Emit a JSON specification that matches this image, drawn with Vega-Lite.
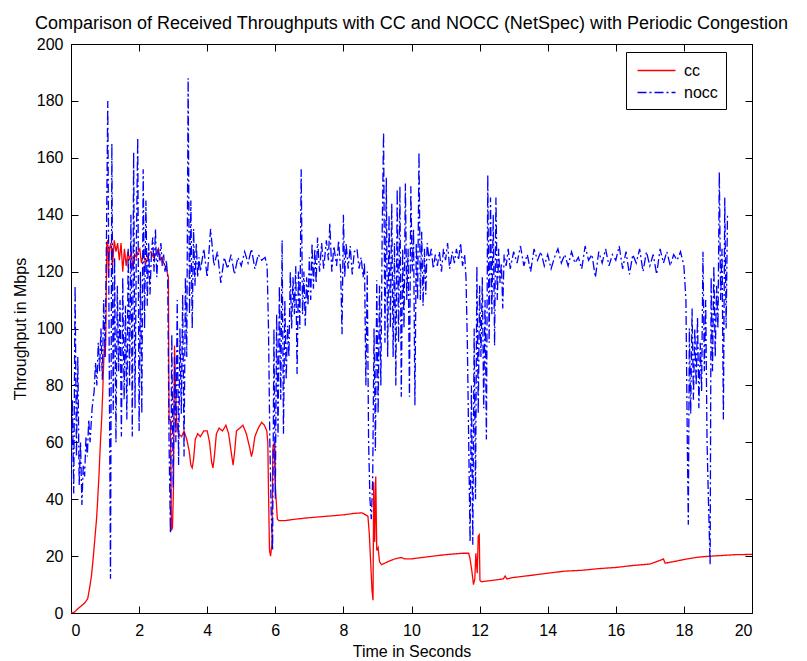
{
  "$schema": "https://vega.github.io/schema/vega-lite/v6.json",
  "width": 681,
  "height": 569,
  "autosize": {"type": "none"},
  "padding": {"left": 71, "top": 44, "right": 55, "bottom": 48},
  "background": "white",
  "title": {"text": "Comparison of Received Throughputs with CC and NOCC (NetSpec) with Periodic Congestion", "font": "Liberation Sans", "fontSize": 18, "fontWeight": "normal", "color": "black", "anchor": "middle", "offset": 3},
  "config": {
    "view": {"stroke": "black", "strokeWidth": 1},
    "axis": {"domain": false, "grid": false, "tickColor": "black", "tickSize": -7, "labelFont": "Liberation Sans", "labelFontSize": 16, "labelColor": "black", "titleFont": "Liberation Sans", "titleFontSize": 16, "titleFontWeight": "normal", "titleColor": "black"}
  },
  "data": {"values": [
{"t":0,"v":0,"s":"cc"},{"t":0.1,"v":0.3,"s":"cc"},{"t":0.2,"v":1.5,"s":"cc"},{"t":0.3,"v":2.5,"s":"cc"},{"t":0.4,"v":3.5,"s":"cc"},{"t":0.49,"v":5,"s":"cc"},{"t":0.55,"v":9,"s":"cc"},{"t":0.6,"v":13,"s":"cc"},{"t":0.65,"v":19,"s":"cc"},{"t":0.7,"v":26,"s":"cc"},{"t":0.75,"v":33,"s":"cc"},{"t":0.78,"v":39,"s":"cc"},{"t":0.82,"v":48,"s":"cc"},{"t":0.86,"v":59,"s":"cc"},{"t":0.9,"v":68,"s":"cc"},{"t":0.93,"v":77,"s":"cc"},{"t":0.96,"v":88,"s":"cc"},{"t":0.98,"v":94,"s":"cc"},{"t":1.0,"v":90,"s":"cc"},{"t":1.02,"v":95,"s":"cc"},{"t":1.05,"v":130,"s":"cc"},{"t":1.08,"v":131,"s":"cc"},{"t":1.1,"v":118,"s":"cc"},{"t":1.13,"v":128,"s":"cc"},{"t":1.17,"v":130,"s":"cc"},{"t":1.22,"v":122,"s":"cc"},{"t":1.27,"v":131,"s":"cc"},{"t":1.32,"v":127,"s":"cc"},{"t":1.37,"v":130,"s":"cc"},{"t":1.42,"v":124,"s":"cc"},{"t":1.47,"v":130,"s":"cc"},{"t":1.52,"v":120,"s":"cc"},{"t":1.57,"v":128,"s":"cc"},{"t":1.62,"v":122,"s":"cc"},{"t":1.67,"v":127,"s":"cc"},{"t":1.72,"v":124,"s":"cc"},{"t":1.77,"v":127,"s":"cc"},{"t":1.82,"v":121,"s":"cc"},{"t":1.87,"v":126,"s":"cc"},{"t":1.92,"v":125,"s":"cc"},{"t":1.97,"v":127,"s":"cc"},{"t":2.02,"v":128,"s":"cc"},{"t":2.07,"v":123,"s":"cc"},{"t":2.12,"v":126,"s":"cc"},{"t":2.2,"v":123,"s":"cc"},{"t":2.27,"v":126,"s":"cc"},{"t":2.35,"v":127,"s":"cc"},{"t":2.42,"v":125,"s":"cc"},{"t":2.5,"v":126,"s":"cc"},{"t":2.57,"v":128,"s":"cc"},{"t":2.62,"v":124,"s":"cc"},{"t":2.67,"v":125,"s":"cc"},{"t":2.72,"v":123,"s":"cc"},{"t":2.77,"v":122,"s":"cc"},{"t":2.82,"v":120,"s":"cc"},{"t":2.86,"v":118,"s":"cc"},{"t":2.88,"v":68,"s":"cc"},{"t":2.92,"v":68,"s":"cc"},{"t":2.95,"v":29,"s":"cc"},{"t":2.98,"v":30,"s":"cc"},{"t":3.01,"v":44,"s":"cc"},{"t":3.04,"v":94,"s":"cc"},{"t":3.07,"v":80,"s":"cc"},{"t":3.1,"v":68,"s":"cc"},{"t":3.15,"v":63,"s":"cc"},{"t":3.25,"v":62,"s":"cc"},{"t":3.32,"v":64,"s":"cc"},{"t":3.4,"v":61,"s":"cc"},{"t":3.47,"v":57,"s":"cc"},{"t":3.52,"v":52,"s":"cc"},{"t":3.56,"v":51,"s":"cc"},{"t":3.6,"v":54,"s":"cc"},{"t":3.65,"v":61,"s":"cc"},{"t":3.72,"v":63,"s":"cc"},{"t":3.8,"v":62,"s":"cc"},{"t":3.9,"v":64,"s":"cc"},{"t":4.0,"v":64,"s":"cc"},{"t":4.07,"v":60,"s":"cc"},{"t":4.13,"v":53,"s":"cc"},{"t":4.17,"v":51,"s":"cc"},{"t":4.21,"v":55,"s":"cc"},{"t":4.27,"v":63,"s":"cc"},{"t":4.35,"v":65,"s":"cc"},{"t":4.45,"v":64,"s":"cc"},{"t":4.55,"v":66,"s":"cc"},{"t":4.63,"v":63,"s":"cc"},{"t":4.7,"v":57,"s":"cc"},{"t":4.76,"v":52,"s":"cc"},{"t":4.8,"v":56,"s":"cc"},{"t":4.86,"v":64,"s":"cc"},{"t":4.96,"v":65,"s":"cc"},{"t":5.05,"v":66,"s":"cc"},{"t":5.15,"v":63,"s":"cc"},{"t":5.25,"v":58,"s":"cc"},{"t":5.3,"v":55,"s":"cc"},{"t":5.34,"v":57,"s":"cc"},{"t":5.4,"v":62,"s":"cc"},{"t":5.5,"v":65,"s":"cc"},{"t":5.6,"v":67,"s":"cc"},{"t":5.68,"v":66,"s":"cc"},{"t":5.75,"v":64,"s":"cc"},{"t":5.78,"v":60,"s":"cc"},{"t":5.8,"v":43,"s":"cc"},{"t":5.83,"v":22,"s":"cc"},{"t":5.86,"v":20,"s":"cc"},{"t":5.9,"v":24,"s":"cc"},{"t":5.93,"v":58,"s":"cc"},{"t":5.97,"v":60,"s":"cc"},{"t":6.0,"v":45,"s":"cc"},{"t":6.03,"v":39,"s":"cc"},{"t":6.06,"v":33,"s":"cc"},{"t":6.1,"v":32.5,"s":"cc"},{"t":6.3,"v":32.5,"s":"cc"},{"t":6.6,"v":33,"s":"cc"},{"t":7.0,"v":33.5,"s":"cc"},{"t":7.5,"v":34,"s":"cc"},{"t":8.0,"v":34.5,"s":"cc"},{"t":8.3,"v":35,"s":"cc"},{"t":8.55,"v":35.2,"s":"cc"},{"t":8.72,"v":34,"s":"cc"},{"t":8.76,"v":28,"s":"cc"},{"t":8.8,"v":18,"s":"cc"},{"t":8.84,"v":8,"s":"cc"},{"t":8.87,"v":4.5,"s":"cc"},{"t":8.89,"v":46,"s":"cc"},{"t":8.92,"v":25,"s":"cc"},{"t":8.95,"v":48,"s":"cc"},{"t":8.98,"v":22,"s":"cc"},{"t":9.02,"v":23,"s":"cc"},{"t":9.06,"v":18,"s":"cc"},{"t":9.12,"v":17,"s":"cc"},{"t":9.3,"v":18,"s":"cc"},{"t":9.5,"v":19,"s":"cc"},{"t":9.7,"v":19.5,"s":"cc"},{"t":9.8,"v":19,"s":"cc"},{"t":10.0,"v":19,"s":"cc"},{"t":10.3,"v":19.5,"s":"cc"},{"t":10.64,"v":20,"s":"cc"},{"t":11.0,"v":20.5,"s":"cc"},{"t":11.5,"v":21,"s":"cc"},{"t":11.68,"v":21,"s":"cc"},{"t":11.72,"v":19,"s":"cc"},{"t":11.77,"v":15,"s":"cc"},{"t":11.82,"v":10,"s":"cc"},{"t":11.86,"v":12,"s":"cc"},{"t":11.89,"v":21,"s":"cc"},{"t":11.93,"v":14,"s":"cc"},{"t":11.96,"v":27,"s":"cc"},{"t":11.99,"v":27.5,"s":"cc"},{"t":12.01,"v":11.5,"s":"cc"},{"t":12.05,"v":11,"s":"cc"},{"t":12.4,"v":11.5,"s":"cc"},{"t":12.7,"v":12,"s":"cc"},{"t":12.75,"v":13,"s":"cc"},{"t":12.8,"v":12,"s":"cc"},{"t":13.0,"v":12.5,"s":"cc"},{"t":13.5,"v":13.2,"s":"cc"},{"t":14.0,"v":14,"s":"cc"},{"t":14.5,"v":14.7,"s":"cc"},{"t":15.0,"v":15,"s":"cc"},{"t":15.5,"v":15.6,"s":"cc"},{"t":16.0,"v":16,"s":"cc"},{"t":16.5,"v":16.7,"s":"cc"},{"t":17.0,"v":17.2,"s":"cc"},{"t":17.3,"v":18.5,"s":"cc"},{"t":17.4,"v":19,"s":"cc"},{"t":17.45,"v":17.5,"s":"cc"},{"t":17.8,"v":18.3,"s":"cc"},{"t":18.0,"v":18.8,"s":"cc"},{"t":18.4,"v":19.6,"s":"cc"},{"t":18.8,"v":20,"s":"cc"},{"t":19.1,"v":20.2,"s":"cc"},{"t":19.5,"v":20.5,"s":"cc"},{"t":20.0,"v":20.6,"s":"cc"},
{"t":0.0,"v":40,"s":"nocc"},{"t":0.04,"v":75,"s":"nocc"},{"t":0.08,"v":42,"s":"nocc"},{"t":0.12,"v":115,"s":"nocc"},{"t":0.16,"v":55,"s":"nocc"},{"t":0.2,"v":90,"s":"nocc"},{"t":0.24,"v":45,"s":"nocc"},{"t":0.28,"v":60,"s":"nocc"},{"t":0.32,"v":38,"s":"nocc"},{"t":0.36,"v":52,"s":"nocc"},{"t":0.4,"v":48,"s":"nocc"},{"t":0.44,"v":62,"s":"nocc"},{"t":0.48,"v":55,"s":"nocc"},{"t":0.52,"v":68,"s":"nocc"},{"t":0.56,"v":60,"s":"nocc"},{"t":0.62,"v":72,"s":"nocc"},{"t":0.68,"v":78,"s":"nocc"},{"t":0.72,"v":88,"s":"nocc"},{"t":0.76,"v":80,"s":"nocc"},{"t":0.8,"v":95,"s":"nocc"},{"t":0.84,"v":85,"s":"nocc"},{"t":0.88,"v":100,"s":"nocc"},{"t":0.92,"v":82,"s":"nocc"},{"t":0.96,"v":110,"s":"nocc"},{"t":1.0,"v":90,"s":"nocc"},{"t":1.04,"v":130,"s":"nocc"},{"t":1.08,"v":180,"s":"nocc"},{"t":1.12,"v":95,"s":"nocc"},{"t":1.16,"v":12,"s":"nocc"},{"t":1.2,"v":165,"s":"nocc"},{"t":1.24,"v":70,"s":"nocc"},{"t":1.28,"v":125,"s":"nocc"},{"t":1.32,"v":60,"s":"nocc"},{"t":1.36,"v":115,"s":"nocc"},{"t":1.4,"v":85,"s":"nocc"},{"t":1.44,"v":110,"s":"nocc"},{"t":1.48,"v":62,"s":"nocc"},{"t":1.52,"v":118,"s":"nocc"},{"t":1.56,"v":75,"s":"nocc"},{"t":1.6,"v":108,"s":"nocc"},{"t":1.64,"v":68,"s":"nocc"},{"t":1.68,"v":128,"s":"nocc"},{"t":1.72,"v":80,"s":"nocc"},{"t":1.76,"v":140,"s":"nocc"},{"t":1.8,"v":62,"s":"nocc"},{"t":1.84,"v":162,"s":"nocc"},{"t":1.88,"v":72,"s":"nocc"},{"t":1.92,"v":130,"s":"nocc"},{"t":1.96,"v":167,"s":"nocc"},{"t":2.0,"v":64,"s":"nocc"},{"t":2.04,"v":120,"s":"nocc"},{"t":2.08,"v":70,"s":"nocc"},{"t":2.12,"v":156,"s":"nocc"},{"t":2.16,"v":100,"s":"nocc"},{"t":2.2,"v":145,"s":"nocc"},{"t":2.24,"v":108,"s":"nocc"},{"t":2.28,"v":130,"s":"nocc"},{"t":2.32,"v":112,"s":"nocc"},{"t":2.36,"v":126,"s":"nocc"},{"t":2.4,"v":132,"s":"nocc"},{"t":2.44,"v":120,"s":"nocc"},{"t":2.48,"v":135,"s":"nocc"},{"t":2.52,"v":118,"s":"nocc"},{"t":2.56,"v":128,"s":"nocc"},{"t":2.6,"v":124,"s":"nocc"},{"t":2.64,"v":130,"s":"nocc"},{"t":2.68,"v":122,"s":"nocc"},{"t":2.72,"v":126,"s":"nocc"},{"t":2.76,"v":120,"s":"nocc"},{"t":2.8,"v":124,"s":"nocc"},{"t":2.84,"v":118,"s":"nocc"},{"t":2.88,"v":60,"s":"nocc"},{"t":2.92,"v":28,"s":"nocc"},{"t":2.96,"v":98,"s":"nocc"},{"t":3.0,"v":44,"s":"nocc"},{"t":3.04,"v":90,"s":"nocc"},{"t":3.08,"v":60,"s":"nocc"},{"t":3.12,"v":110,"s":"nocc"},{"t":3.16,"v":52,"s":"nocc"},{"t":3.2,"v":100,"s":"nocc"},{"t":3.24,"v":70,"s":"nocc"},{"t":3.28,"v":112,"s":"nocc"},{"t":3.32,"v":55,"s":"nocc"},{"t":3.36,"v":118,"s":"nocc"},{"t":3.4,"v":90,"s":"nocc"},{"t":3.44,"v":188,"s":"nocc"},{"t":3.48,"v":105,"s":"nocc"},{"t":3.52,"v":145,"s":"nocc"},{"t":3.56,"v":100,"s":"nocc"},{"t":3.6,"v":135,"s":"nocc"},{"t":3.64,"v":115,"s":"nocc"},{"t":3.68,"v":130,"s":"nocc"},{"t":3.72,"v":118,"s":"nocc"},{"t":3.76,"v":125,"s":"nocc"},{"t":3.8,"v":120,"s":"nocc"},{"t":3.9,"v":128,"s":"nocc"},{"t":4.0,"v":118,"s":"nocc"},{"t":4.1,"v":135,"s":"nocc"},{"t":4.2,"v":122,"s":"nocc"},{"t":4.3,"v":127,"s":"nocc"},{"t":4.4,"v":116,"s":"nocc"},{"t":4.5,"v":125,"s":"nocc"},{"t":4.6,"v":121,"s":"nocc"},{"t":4.7,"v":126,"s":"nocc"},{"t":4.8,"v":119,"s":"nocc"},{"t":4.9,"v":125,"s":"nocc"},{"t":5.0,"v":122,"s":"nocc"},{"t":5.1,"v":127,"s":"nocc"},{"t":5.2,"v":123,"s":"nocc"},{"t":5.3,"v":128,"s":"nocc"},{"t":5.4,"v":121,"s":"nocc"},{"t":5.5,"v":126,"s":"nocc"},{"t":5.6,"v":124,"s":"nocc"},{"t":5.7,"v":125,"s":"nocc"},{"t":5.76,"v":122,"s":"nocc"},{"t":5.8,"v":100,"s":"nocc"},{"t":5.84,"v":60,"s":"nocc"},{"t":5.88,"v":35,"s":"nocc"},{"t":5.92,"v":22,"s":"nocc"},{"t":5.96,"v":100,"s":"nocc"},{"t":6.0,"v":40,"s":"nocc"},{"t":6.04,"v":105,"s":"nocc"},{"t":6.08,"v":62,"s":"nocc"},{"t":6.12,"v":115,"s":"nocc"},{"t":6.16,"v":75,"s":"nocc"},{"t":6.2,"v":131,"s":"nocc"},{"t":6.24,"v":63,"s":"nocc"},{"t":6.28,"v":110,"s":"nocc"},{"t":6.32,"v":82,"s":"nocc"},{"t":6.36,"v":101,"s":"nocc"},{"t":6.4,"v":90,"s":"nocc"},{"t":6.44,"v":120,"s":"nocc"},{"t":6.48,"v":100,"s":"nocc"},{"t":6.52,"v":118,"s":"nocc"},{"t":6.56,"v":105,"s":"nocc"},{"t":6.6,"v":122,"s":"nocc"},{"t":6.64,"v":84,"s":"nocc"},{"t":6.68,"v":120,"s":"nocc"},{"t":6.72,"v":100,"s":"nocc"},{"t":6.76,"v":156,"s":"nocc"},{"t":6.8,"v":105,"s":"nocc"},{"t":6.84,"v":120,"s":"nocc"},{"t":6.88,"v":101,"s":"nocc"},{"t":6.92,"v":118,"s":"nocc"},{"t":6.96,"v":108,"s":"nocc"},{"t":7.0,"v":125,"s":"nocc"},{"t":7.04,"v":110,"s":"nocc"},{"t":7.08,"v":130,"s":"nocc"},{"t":7.12,"v":114,"s":"nocc"},{"t":7.16,"v":128,"s":"nocc"},{"t":7.2,"v":116,"s":"nocc"},{"t":7.24,"v":132,"s":"nocc"},{"t":7.3,"v":120,"s":"nocc"},{"t":7.36,"v":130,"s":"nocc"},{"t":7.42,"v":121,"s":"nocc"},{"t":7.5,"v":131,"s":"nocc"},{"t":7.56,"v":124,"s":"nocc"},{"t":7.6,"v":137,"s":"nocc"},{"t":7.66,"v":120,"s":"nocc"},{"t":7.72,"v":129,"s":"nocc"},{"t":7.8,"v":122,"s":"nocc"},{"t":7.86,"v":131,"s":"nocc"},{"t":7.92,"v":120,"s":"nocc"},{"t":7.96,"v":98,"s":"nocc"},{"t":8.0,"v":140,"s":"nocc"},{"t":8.04,"v":118,"s":"nocc"},{"t":8.08,"v":130,"s":"nocc"},{"t":8.14,"v":121,"s":"nocc"},{"t":8.2,"v":129,"s":"nocc"},{"t":8.26,"v":119,"s":"nocc"},{"t":8.32,"v":127,"s":"nocc"},{"t":8.4,"v":128,"s":"nocc"},{"t":8.46,"v":121,"s":"nocc"},{"t":8.52,"v":125,"s":"nocc"},{"t":8.58,"v":118,"s":"nocc"},{"t":8.62,"v":123,"s":"nocc"},{"t":8.66,"v":80,"s":"nocc"},{"t":8.7,"v":120,"s":"nocc"},{"t":8.74,"v":60,"s":"nocc"},{"t":8.78,"v":40,"s":"nocc"},{"t":8.82,"v":33,"s":"nocc"},{"t":8.86,"v":47,"s":"nocc"},{"t":8.9,"v":100,"s":"nocc"},{"t":8.94,"v":57,"s":"nocc"},{"t":8.98,"v":117,"s":"nocc"},{"t":9.02,"v":70,"s":"nocc"},{"t":9.06,"v":115,"s":"nocc"},{"t":9.1,"v":80,"s":"nocc"},{"t":9.14,"v":135,"s":"nocc"},{"t":9.18,"v":169,"s":"nocc"},{"t":9.22,"v":95,"s":"nocc"},{"t":9.26,"v":153,"s":"nocc"},{"t":9.3,"v":90,"s":"nocc"},{"t":9.34,"v":140,"s":"nocc"},{"t":9.38,"v":100,"s":"nocc"},{"t":9.42,"v":144,"s":"nocc"},{"t":9.46,"v":90,"s":"nocc"},{"t":9.5,"v":130,"s":"nocc"},{"t":9.54,"v":80,"s":"nocc"},{"t":9.58,"v":149,"s":"nocc"},{"t":9.62,"v":95,"s":"nocc"},{"t":9.66,"v":150,"s":"nocc"},{"t":9.7,"v":76,"s":"nocc"},{"t":9.74,"v":128,"s":"nocc"},{"t":9.78,"v":100,"s":"nocc"},{"t":9.82,"v":151,"s":"nocc"},{"t":9.86,"v":110,"s":"nocc"},{"t":9.9,"v":128,"s":"nocc"},{"t":9.94,"v":76,"s":"nocc"},{"t":9.98,"v":150,"s":"nocc"},{"t":10.02,"v":120,"s":"nocc"},{"t":10.06,"v":135,"s":"nocc"},{"t":10.1,"v":73,"s":"nocc"},{"t":10.14,"v":130,"s":"nocc"},{"t":10.18,"v":110,"s":"nocc"},{"t":10.22,"v":162,"s":"nocc"},{"t":10.26,"v":110,"s":"nocc"},{"t":10.3,"v":134,"s":"nocc"},{"t":10.34,"v":108,"s":"nocc"},{"t":10.38,"v":128,"s":"nocc"},{"t":10.42,"v":112,"s":"nocc"},{"t":10.46,"v":130,"s":"nocc"},{"t":10.52,"v":124,"s":"nocc"},{"t":10.58,"v":128,"s":"nocc"},{"t":10.64,"v":121,"s":"nocc"},{"t":10.7,"v":126,"s":"nocc"},{"t":10.76,"v":122,"s":"nocc"},{"t":10.82,"v":127,"s":"nocc"},{"t":10.88,"v":120,"s":"nocc"},{"t":10.94,"v":128,"s":"nocc"},{"t":11.0,"v":124,"s":"nocc"},{"t":11.06,"v":130,"s":"nocc"},{"t":11.12,"v":121,"s":"nocc"},{"t":11.2,"v":127,"s":"nocc"},{"t":11.26,"v":123,"s":"nocc"},{"t":11.32,"v":128,"s":"nocc"},{"t":11.38,"v":124,"s":"nocc"},{"t":11.44,"v":130,"s":"nocc"},{"t":11.5,"v":122,"s":"nocc"},{"t":11.56,"v":126,"s":"nocc"},{"t":11.6,"v":118,"s":"nocc"},{"t":11.64,"v":95,"s":"nocc"},{"t":11.68,"v":60,"s":"nocc"},{"t":11.72,"v":25,"s":"nocc"},{"t":11.76,"v":80,"s":"nocc"},{"t":11.8,"v":24,"s":"nocc"},{"t":11.84,"v":100,"s":"nocc"},{"t":11.88,"v":40,"s":"nocc"},{"t":11.92,"v":122,"s":"nocc"},{"t":11.96,"v":70,"s":"nocc"},{"t":12.0,"v":115,"s":"nocc"},{"t":12.04,"v":90,"s":"nocc"},{"t":12.08,"v":118,"s":"nocc"},{"t":12.12,"v":72,"s":"nocc"},{"t":12.16,"v":110,"s":"nocc"},{"t":12.2,"v":61,"s":"nocc"},{"t":12.24,"v":154,"s":"nocc"},{"t":12.28,"v":95,"s":"nocc"},{"t":12.32,"v":146,"s":"nocc"},{"t":12.36,"v":105,"s":"nocc"},{"t":12.4,"v":140,"s":"nocc"},{"t":12.44,"v":94,"s":"nocc"},{"t":12.48,"v":146,"s":"nocc"},{"t":12.52,"v":110,"s":"nocc"},{"t":12.56,"v":128,"s":"nocc"},{"t":12.6,"v":116,"s":"nocc"},{"t":12.64,"v":123,"s":"nocc"},{"t":12.68,"v":107,"s":"nocc"},{"t":12.72,"v":126,"s":"nocc"},{"t":12.78,"v":122,"s":"nocc"},{"t":12.84,"v":128,"s":"nocc"},{"t":12.9,"v":121,"s":"nocc"},{"t":13.0,"v":127,"s":"nocc"},{"t":13.1,"v":123,"s":"nocc"},{"t":13.2,"v":129,"s":"nocc"},{"t":13.3,"v":122,"s":"nocc"},{"t":13.4,"v":126,"s":"nocc"},{"t":13.5,"v":120,"s":"nocc"},{"t":13.6,"v":128,"s":"nocc"},{"t":13.7,"v":124,"s":"nocc"},{"t":13.8,"v":127,"s":"nocc"},{"t":13.9,"v":122,"s":"nocc"},{"t":14.0,"v":126,"s":"nocc"},{"t":14.1,"v":121,"s":"nocc"},{"t":14.2,"v":125,"s":"nocc"},{"t":14.3,"v":128,"s":"nocc"},{"t":14.4,"v":123,"s":"nocc"},{"t":14.5,"v":126,"s":"nocc"},{"t":14.6,"v":122,"s":"nocc"},{"t":14.7,"v":127,"s":"nocc"},{"t":14.8,"v":123,"s":"nocc"},{"t":14.9,"v":125,"s":"nocc"},{"t":15.0,"v":121,"s":"nocc"},{"t":15.1,"v":129,"s":"nocc"},{"t":15.2,"v":124,"s":"nocc"},{"t":15.3,"v":126,"s":"nocc"},{"t":15.4,"v":118,"s":"nocc"},{"t":15.5,"v":127,"s":"nocc"},{"t":15.6,"v":123,"s":"nocc"},{"t":15.7,"v":128,"s":"nocc"},{"t":15.8,"v":122,"s":"nocc"},{"t":15.9,"v":126,"s":"nocc"},{"t":16.0,"v":124,"s":"nocc"},{"t":16.1,"v":129,"s":"nocc"},{"t":16.2,"v":121,"s":"nocc"},{"t":16.3,"v":127,"s":"nocc"},{"t":16.4,"v":119,"s":"nocc"},{"t":16.5,"v":126,"s":"nocc"},{"t":16.6,"v":123,"s":"nocc"},{"t":16.7,"v":128,"s":"nocc"},{"t":16.8,"v":120,"s":"nocc"},{"t":16.9,"v":127,"s":"nocc"},{"t":17.0,"v":122,"s":"nocc"},{"t":17.1,"v":126,"s":"nocc"},{"t":17.2,"v":119,"s":"nocc"},{"t":17.3,"v":128,"s":"nocc"},{"t":17.4,"v":123,"s":"nocc"},{"t":17.5,"v":127,"s":"nocc"},{"t":17.6,"v":122,"s":"nocc"},{"t":17.7,"v":126,"s":"nocc"},{"t":17.8,"v":124,"s":"nocc"},{"t":17.9,"v":127,"s":"nocc"},{"t":18.0,"v":122,"s":"nocc"},{"t":18.06,"v":110,"s":"nocc"},{"t":18.1,"v":60,"s":"nocc"},{"t":18.13,"v":31,"s":"nocc"},{"t":18.16,"v":100,"s":"nocc"},{"t":18.2,"v":70,"s":"nocc"},{"t":18.24,"v":107,"s":"nocc"},{"t":18.28,"v":75,"s":"nocc"},{"t":18.32,"v":100,"s":"nocc"},{"t":18.36,"v":80,"s":"nocc"},{"t":18.4,"v":104,"s":"nocc"},{"t":18.44,"v":72,"s":"nocc"},{"t":18.48,"v":95,"s":"nocc"},{"t":18.52,"v":78,"s":"nocc"},{"t":18.56,"v":127,"s":"nocc"},{"t":18.6,"v":85,"s":"nocc"},{"t":18.64,"v":110,"s":"nocc"},{"t":18.68,"v":60,"s":"nocc"},{"t":18.72,"v":40,"s":"nocc"},{"t":18.77,"v":17,"s":"nocc"},{"t":18.8,"v":118,"s":"nocc"},{"t":18.84,"v":85,"s":"nocc"},{"t":18.88,"v":122,"s":"nocc"},{"t":18.92,"v":90,"s":"nocc"},{"t":18.96,"v":115,"s":"nocc"},{"t":19.0,"v":100,"s":"nocc"},{"t":19.04,"v":155,"s":"nocc"},{"t":19.08,"v":110,"s":"nocc"},{"t":19.12,"v":128,"s":"nocc"},{"t":19.16,"v":68,"s":"nocc"},{"t":19.2,"v":146,"s":"nocc"},{"t":19.24,"v":100,"s":"nocc"},{"t":19.28,"v":140,"s":"nocc"}
  ]},
  "layer": [
    {
      "mark": {"type": "line", "strokeWidth": 1.3, "clip": true},
      "encoding": {
        "x": {"field": "t", "type": "quantitative", "scale": {"domain": [0, 20], "nice": false, "zero": false},
              "axis": {"orient": "bottom", "values": [0,2,4,6,8,10,12,14,16,18,20], "title": "Time in Seconds", "labelPadding": 16, "titlePadding": 5}},
        "y": {"field": "v", "type": "quantitative", "scale": {"domain": [0, 200], "nice": false},
              "axis": {"orient": "left", "values": [0,20,40,60,80,100,120,140,160,180,200], "title": "Throughput in Mbps", "labelPadding": 15, "titlePadding": 8}},
        "color": {"field": "s", "type": "nominal", "scale": {"domain": ["cc", "nocc"], "range": ["#ff0000", "#0000ff"]},
                  "legend": {"title": null, "orient": "none", "legendX": 555, "legendY": 8, "strokeColor": "black", "fillColor": "white", "padding": 8, "labelFont": "Liberation Sans", "labelFontSize": 16, "labelColor": "black", "labelExpr": "datum.label + '    '", "symbolType": "M-2,0H2", "symbolSize": 361, "symbolStrokeWidth": 1.3, "symbolOffset": 12, "labelOffset": 17, "rowPadding": 3, "cornerRadius": 0}},
        "strokeDash": {"field": "s", "type": "nominal", "scale": {"domain": ["cc", "nocc"], "range": [[1, 0], [9, 3, 2, 3]]}, "legend": null}
      }
    },
    {
      "mark": {"type": "point", "opacity": 0},
      "encoding": {
        "x": {"field": "t", "type": "quantitative", "axis": {"orient": "top", "values": [0,2,4,6,8,10,12,14,16,18,20], "labels": false, "title": null}},
        "y": {"field": "v", "type": "quantitative", "axis": {"orient": "right", "values": [0,20,40,60,80,100,120,140,160,180,200], "labels": false, "title": null}}
      }
    }
  ],
  "resolve": {"axis": {"x": "independent", "y": "independent"}}
}
